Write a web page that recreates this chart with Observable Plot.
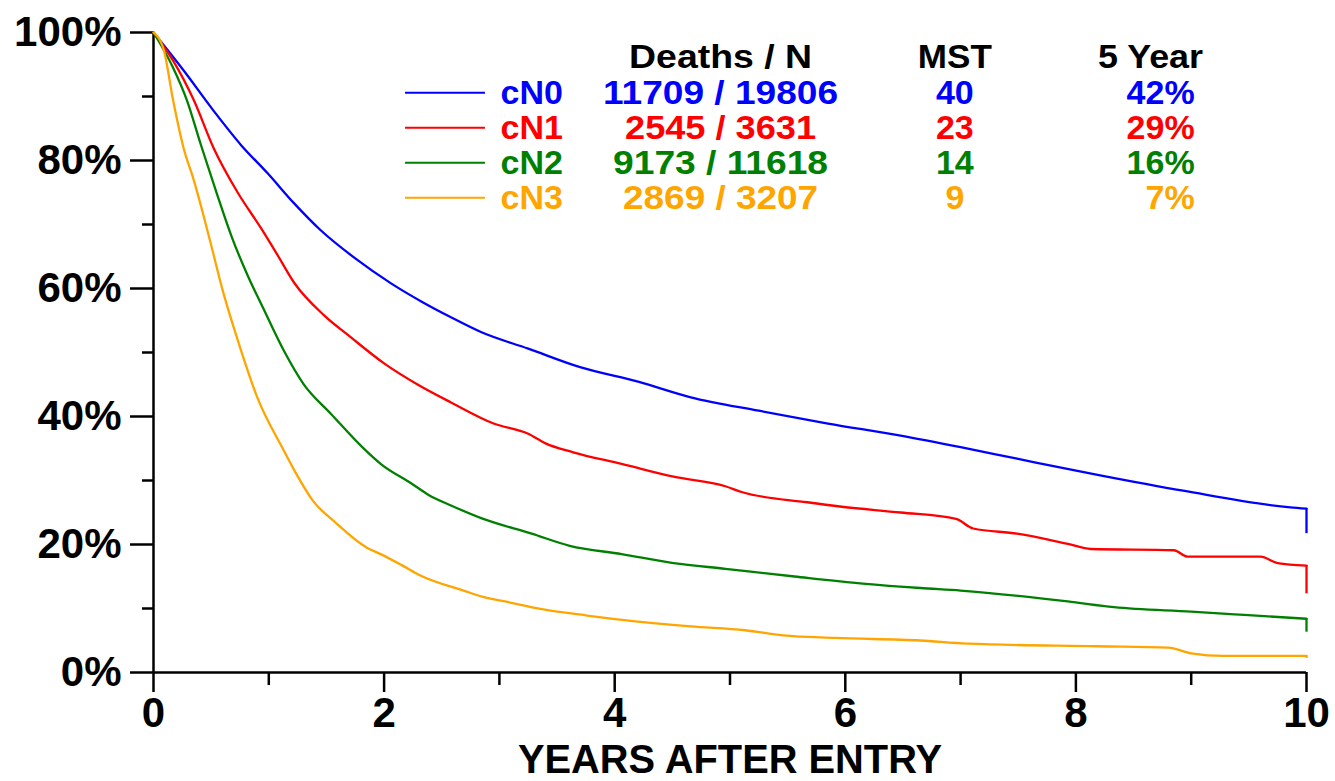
<!DOCTYPE html>
<html><head><meta charset="utf-8">
<script src="https://cdn.jsdelivr.net/npm/d3@7"></script>
<script src="https://cdn.jsdelivr.net/npm/@observablehq/plot@0.6"></script>
<style>
html,body{margin:0;padding:0;background:#fff}
</style></head>
<body><div id="chart"></div>
<script>
// ---- data ----
const groups = ["cN0", "cN1", "cN2", "cN3"];
const colors = ["#0000ff", "#ff0000", "#008000", "#ffa500"];
const deaths = [11709, 2545, 9173, 2869];
const totals = [19806, 3631, 11618, 3207];
const mst = [40, 23, 14, 9];
const fiveYear = [42, 29, 16, 7];
const headers = ["Deaths / N", "MST", "5 Year"];

// Kaplan-Meier estimates: [years, survival %]
const cN0 = [[0,100],[0.26,94.1],[0.52,87.8],[0.76,82.4],[0.99,78.0],[1.22,73.3],[1.45,69.1],[1.75,64.7],[2.06,60.8],[2.33,57.9],[2.58,55.5],[2.84,53.2],[3.25,50.6],[3.70,47.7],[4.21,45.4],[4.66,43.0],[5.25,40.9],[5.85,38.9],[6.48,37.0],[7.0,35.2],[7.49,33.4],[8.21,30.8],[8.93,28.4],[9.86,25.8],[10,25.6],[10,21.7]];
const cN1 = [[0,100],[0.17,95.6],[0.35,89.4],[0.52,82.0],[0.73,75.0],[0.93,69.5],[1.07,65.4],[1.22,60.9],[1.48,55.8],[1.71,52.4],[2.0,48.3],[2.29,45.0],[2.58,42.2],[2.95,38.9],[3.25,37.3],[3.40,35.8],[3.64,34.4],[4.06,32.6],[4.51,30.6],[4.96,29.1],[5.1,28.2],[5.67,26.6],[5.97,25.9],[6.48,25.0],[6.96,24.0],[7.11,22.5],[7.49,21.7],[7.93,20.1],[8.13,19.3],[8.85,19.1],[8.97,18.1],[9.6,18.1],[9.75,17.1],[10,16.7],[10,12.3]];
const cN2 = [[0,100],[0.17,94.5],[0.29,89.4],[0.41,82.5],[0.55,74.8],[0.68,68.0],[0.81,62.3],[0.96,56.6],[1.13,50.3],[1.30,45.1],[1.54,40.4],[1.84,34.7],[1.97,32.6],[2.24,29.5],[2.39,27.7],[2.58,26.1],[2.86,24.0],[3.28,21.7],[3.61,19.8],[4.06,18.5],[4.51,17.1],[4.96,16.2],[5.56,15.0],[6.15,13.9],[6.65,13.2],[7.0,12.8],[7.93,11.1],[8.33,10.2],[9.0,9.5],[9.46,9.0],[10,8.4],[10,6.3]];
const cN3 = [[0,100],[0.09,97.2],[0.17,89.4],[0.26,82.0],[0.35,76.9],[0.49,67.5],[0.60,59.7],[0.74,51.4],[0.90,43.0],[1.13,34.7],[1.23,31.3],[1.38,26.9],[1.58,23.4],[1.85,19.5],[1.97,18.5],[2.16,16.7],[2.31,15.2],[2.69,12.8],[2.86,11.8],[3.05,11.1],[3.37,9.9],[3.76,8.9],[4.18,8.0],[4.66,7.2],[5.13,6.6],[5.46,5.8],[5.91,5.4],[6.65,5.0],[7.06,4.5],[8.19,4.1],[8.8,3.9],[9.0,3.0],[9.28,2.6],[10,2.6],[10,2.2]];

const xMajor = [0, 2, 4, 6, 8, 10];
const xMinor = [1, 3, 5, 7, 9];
const yMajor = [0, 20, 40, 60, 80, 100];
const yMinor = [10, 30, 50, 70, 90];
const xTitle = "YEARS AFTER ENTRY";

// ---- build ----
const curves = [cN0, cN1, cN2, cN3];
// smooth part (strictly increasing time) and the final vertical drop at the last follow-up
const survival = curves.flatMap((c, i) => c.slice(0, -1).map(([t, s]) => ({group: groups[i], t, s})));
const drops = curves.map((c, i) => ({group: groups[i], t: c[c.length - 1][0], s1: c[c.length - 2][1], s2: c[c.length - 1][1]}));
const rows = groups.map((g, i) => ({
  group: g, i,
  dn: `${deaths[i]} / ${totals[i]}`,
  mst: String(mst[i]),
  five: `${fiveYear[i]}%`
}));

// legend layout (in data units of the chart)
const legY = i => 90.6 - i * 5.47;
const headY = 96.1;
const legFont = 34;

const plot = Plot.plot({
  width: 1335,
  height: 781,
  marginLeft: 153,
  marginRight: 29,
  marginTop: 32,
  marginBottom: 109,
  style: {fontFamily: "'Liberation Sans', Arial, Helvetica, sans-serif", fontWeight: "bold", background: "#fff", color: "#000"},
  x: {domain: [0, 10], label: null},
  y: {domain: [0, 100], label: null},
  color: {domain: groups, range: colors},
  marks: [
    Plot.axisY({ticks: yMajor, tickSize: 23, tickPadding: 9, tickFormat: d => d + "%", fontSize: 42, strokeWidth: 2.5, label: null}),
    Plot.axisY({ticks: yMinor, tickSize: 11, tickFormat: () => "", strokeWidth: 2.5, label: null}),
    Plot.axisX({ticks: xMajor, tickSize: 20, tickPadding: 5, fontSize: 42, strokeWidth: 2.5, label: null}),
    Plot.axisX({ticks: xMinor, tickSize: 13, tickFormat: () => "", strokeWidth: 2.5, label: null}),
    Plot.ruleX([0], {y1: 0, y2: 100, strokeWidth: 2.5}),
    Plot.ruleY([0], {x1: 0, x2: 10, strokeWidth: 2.5}),
    Plot.line(survival, {x: "t", y: "s", z: "group", stroke: "group", strokeWidth: 2.3, curve: "monotone-x"}),
    Plot.ruleX(drops, {x: "t", y1: "s1", y2: "s2", stroke: "group", strokeWidth: 2.3}),
    // legend
    Plot.ruleY(rows, {y: d => legY(d.i), x1: 2.186, x2: 2.879, stroke: "group", strokeWidth: 2}),
    Plot.text(rows, {x: 3.01, y: d => legY(d.i), text: "group", fill: "group", textAnchor: "start", fontSize: legFont, fontWeight: "bold"}),
    Plot.text(rows, {x: 4.918, y: d => legY(d.i), text: "dn", fill: "group", textAnchor: "middle", fontSize: legFont, fontWeight: "bold"}),
    Plot.text(rows, {x: 6.95, y: d => legY(d.i), text: "mst", fill: "group", textAnchor: "middle", fontSize: legFont, fontWeight: "bold"}),
    Plot.text(rows, {x: 9.03, y: d => legY(d.i), text: "five", fill: "group", textAnchor: "end", fontSize: legFont, fontWeight: "bold"}),
    Plot.text([headers[0]], {x: 4.918, y: headY, text: d => d, textAnchor: "middle", fontSize: legFont, fontWeight: "bold", fill: "#000"}),
    Plot.text([headers[1]], {x: 6.95, y: headY, text: d => d, textAnchor: "middle", fontSize: legFont, fontWeight: "bold", fill: "#000"}),
    Plot.text([headers[2]], {x: 8.647, y: headY, text: d => d, textAnchor: "middle", fontSize: legFont, fontWeight: "bold", fill: "#000"}),
    // x title
    Plot.text([xTitle], {frameAnchor: "bottom", text: d => d, dy: 72, lineAnchor: "top", fontSize: 40, fontWeight: "bold", fill: "#000"})
  ]
});

const sel = d3.select(plot);
sel.selectAll("text")
  .filter(function() { return this.textContent === xTitle; })
  .attr("textLength", 424)
  .attr("lengthAdjust", "spacingAndGlyphs");
// match legend text widths of the reference (slightly wider glyphs)
const widths = {"Deaths / N": 183, "MST": 74, "5 Year": 105,
  "11709 / 19806": 235, "2545 / 3631": 191, "9173 / 11618": 215, "2869 / 3207": 195};
sel.selectAll("text").each(function() {
  const w = widths[this.textContent];
  if (w) d3.select(this).attr("textLength", w).attr("lengthAdjust", "spacingAndGlyphs");
});

document.getElementById("chart").appendChild(plot);
</script>
</body></html>
